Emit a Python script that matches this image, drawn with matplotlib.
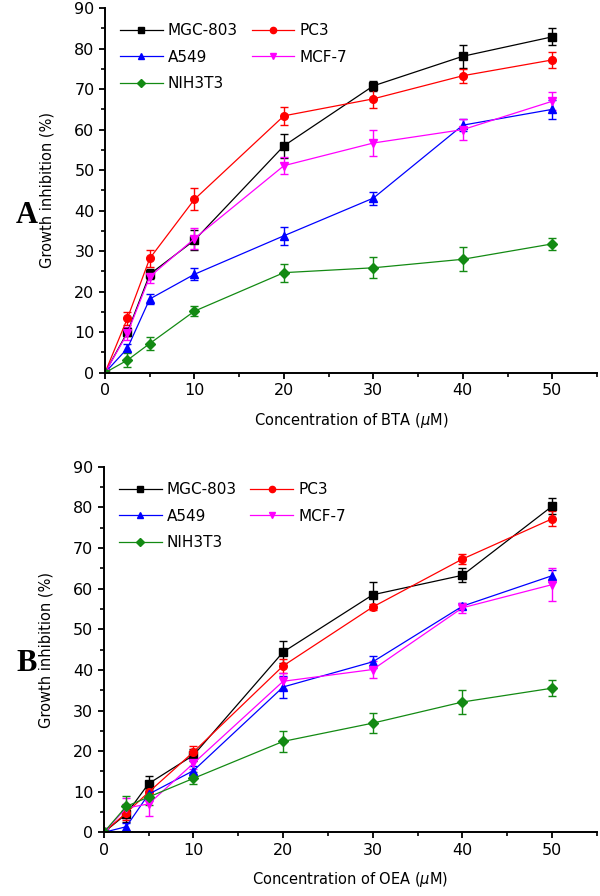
import numpy as np
import matplotlib
matplotlib.use('Agg')
import matplotlib.pyplot as plt
from matplotlib.ticker import MultipleLocator
from matplotlib.lines import Line2D

conc = [0, 2.5, 5, 10, 20, 30, 40, 50]
cells = ['MGC-803', 'PC3', 'A549', 'MCF-7', 'NIH3T3']

# panel A: BTA
bta_mean = {
    'MGC-803': [0, 10.0, 24.3, 32.7, 56.0, 70.8, 78.1, 82.9],
    'PC3':     [0, 13.4, 28.2, 42.8, 63.4, 67.6, 73.3, 77.2],
    'A549':    [0, 6.0, 18.2, 24.3, 33.8, 43.1, 61.1, 65.0],
    'MCF-7':   [0, 9.7, 23.7, 33.1, 51.1, 56.7, 60.0, 67.0],
    'NIH3T3':  [0, 3.1, 7.2, 15.2, 24.7, 25.9, 28.0, 31.8],
}
bta_err = {
    'MGC-803': [0, 1.0, 1.2, 2.5, 3.0, 1.2, 2.9, 2.1],
    'PC3':     [0, 1.5, 2.0, 2.7, 2.3, 2.2, 1.7, 2.0],
    'A549':    [0, 1.0, 1.2, 1.5, 2.2, 1.6, 1.5, 2.4],
    'MCF-7':   [0, 1.5, 1.5, 2.5, 2.1, 3.1, 2.5, 2.2],
    'NIH3T3':  [0, 1.8, 1.5, 1.2, 2.2, 2.6, 3.0, 1.5],
}

# panel B: OEA
oea_mean = {
    'MGC-803': [0, 4.5, 12.0, 19.0, 44.4, 58.5, 63.3, 80.3],
    'PC3':     [0, 4.8, 9.9, 19.8, 41.0, 55.5, 67.3, 77.2],
    'A549':    [0, 1.4, 9.4, 15.2, 35.8, 42.0, 55.7, 63.2],
    'MCF-7':   [0, 6.0, 7.0, 17.0, 37.2, 40.1, 55.3, 61.0],
    'NIH3T3':  [0, 6.4, 8.7, 13.3, 22.4, 26.9, 32.1, 35.5],
}
oea_err = {
    'MGC-803': [0, 2.0, 1.8, 1.5, 2.7, 3.1, 1.7, 2.0],
    'PC3':     [0, 1.8, 1.5, 1.5, 1.8, 0.8, 1.2, 1.8],
    'A549':    [0, 1.0, 1.5, 1.2, 2.6, 1.5, 0.8, 1.5],
    'MCF-7':   [0, 2.5, 3.0, 1.5, 2.0, 2.2, 1.2, 4.0],
    'NIH3T3':  [0, 2.5, 2.0, 1.5, 2.6, 2.5, 2.9, 2.0],
}

colors = {'MGC-803': 'black', 'PC3': 'red', 'A549': 'blue',
          'MCF-7': 'magenta', 'NIH3T3': '#138a13'}
markers = {'MGC-803': 's', 'PC3': 'o', 'A549': '^', 'MCF-7': 'v', 'NIH3T3': 'D'}
msizes = {'MGC-803': 5.5, 'PC3': 5.5, 'A549': 6, 'MCF-7': 6, 'NIH3T3': 4.8}


def draw_panel(ax, mean, err, drug):
    for c in cells:
        ax.errorbar(conc, mean[c], yerr=err[c], color=colors[c],
                    marker=markers[c], markersize=msizes[c], lw=0.9,
                    elinewidth=1.0, capsize=3, capthick=1.0)
    ax.set_xlim(0, 55)
    ax.set_ylim(0, 90)
    ax.xaxis.set_minor_locator(MultipleLocator(5))
    ax.yaxis.set_major_locator(MultipleLocator(10))
    ax.yaxis.set_minor_locator(MultipleLocator(5))
    ax.set_xticks([0, 10, 20, 30, 40, 50])
    for s in ['top', 'right']:
        ax.spines[s].set_visible(False)
    for s in ['left', 'bottom']:
        ax.spines[s].set_linewidth(1.4)
    ax.tick_params(which='major', direction='out', length=4, width=1.3,
                   labelsize=11.5)
    ax.tick_params(which='minor', direction='out', length=3, width=1.2)
    ax.set_ylabel('Growth inhibition (%)', fontsize=10.5, labelpad=14)
    ax.set_xlabel('Concentration of ' + drug + r' ($\mu$M)', fontsize=10.5,
                  labelpad=9)
    order = ['MGC-803', 'A549', 'NIH3T3', 'PC3', 'MCF-7']
    handles = [Line2D([], [], color=colors[c], marker=markers[c],
                      markersize=4.5, lw=0.9) for c in order]
    ax.legend(handles, order, loc='upper left', ncol=2,
              frameon=False, fontsize=11, handlelength=2.8,
              handletextpad=0.33, columnspacing=0.9, labelspacing=0.75,
              borderaxespad=0.0, bbox_to_anchor=(0.018, 0.975))


fig = plt.figure(figsize=(6, 8.96), dpi=100)
ax1 = fig.add_axes([0.175, 0.584, 0.82, 0.407])
ax2 = fig.add_axes([0.173, 0.071, 0.822, 0.408])

draw_panel(ax1, bta_mean, bta_err, 'BTA')
draw_panel(ax2, oea_mean, oea_err, 'OEA')

fig.text(0.045, 0.76, 'A', fontsize=22, fontweight='bold',
         family='Liberation Serif', ha='center', va='center')
fig.text(0.045, 0.26, 'B', fontsize=22, fontweight='bold',
         family='Liberation Serif', ha='center', va='center')

fig.savefig('out.png', dpi=100)
